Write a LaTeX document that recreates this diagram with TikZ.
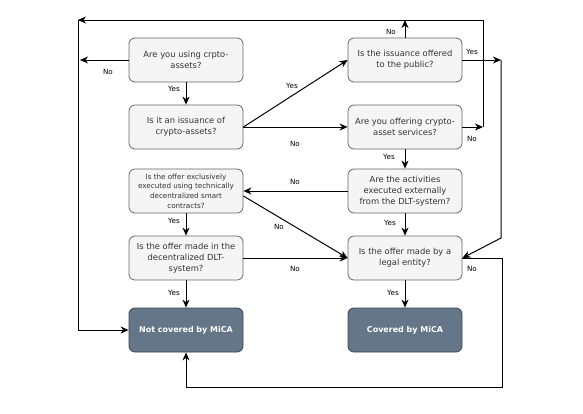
\documentclass[tikz,border=0pt]{standalone}
\usepackage{fontspec}
\setmainfont{DejaVu Sans}
\usetikzlibrary{arrows.meta}
\definecolor{boxfill}{HTML}{F5F5F5}
\definecolor{boxline}{HTML}{666666}
\definecolor{endfill}{HTML}{647687}
\definecolor{endline}{HTML}{314354}
\definecolor{boxtext}{HTML}{333333}
\begin{document}
\begin{tikzpicture}[x=1bp,y=-1bp,
	frage/.style={draw=boxline,fill=boxfill,rounded corners=6bp,minimum width=114bp,minimum height=44bp,align=center,text=boxtext,font=\fontsize{8.4}{10.8}\selectfont,inner sep=1bp,line width=0.8bp},
	ergebnis/.style={frage,draw=endline,fill=endfill,text=white,font=\fontsize{8}{10}\selectfont\bfseries},
	pfeil/.style={-{Stealth[length=8bp,width=7bp,inset=2.5bp]},line width=1bp},
	lbl/.style={font=\fontsize{7.2}{8}\selectfont,inner sep=0pt}]
				\useasboundingbox (0,0) rectangle (583,413);
				\node[frage] (using) at (186,60) {Are you using crpto-\\assets?};
				\node[frage] (issuance) at (186,127) {Is it an issuance of\\crypto-assets?};
				\node[frage] (public) at (405,60) {Is the issuance offered\\to the public?};
				\node[frage] (services) at (405,127) {Are you offering crypto-\\asset services?};
				\node[frage,font=\fontsize{7.2}{9.6}\selectfont] (smart) at (186,191) {Is the offer exclusively\\executed using technically\\decentralized smart\\contracts?};
				\node[frage] (dlt) at (186,258) {Is the offer made in the\\decentralized DLT-\\system?};
				\node[frage] (extern) at (405,191) {Are the activities\\executed externally\\from the DLT-system?};
				\node[frage] (legal) at (405,258) {Is the offer made by a\\legal entity?};
				\node[ergebnis] (notmica) at (186,330) {Not covered by MiCA};
				\node[ergebnis] (mica) at (405,330) {Covered by MiCA};
				\coordinate (usingNo) at (80,60);
				\coordinate (topL) at (78,20);
				\coordinate (topR) at (483,20);
				\coordinate (servNo) at (483,127);
				\coordinate (pubYes) at (501,60);
				\coordinate (knick) at (501,238);
				\coordinate (botR) at (502,387);
				\draw[pfeil] (using) -- (issuance);
				\draw[pfeil] (using.west) -- (usingNo);
				\draw[pfeil] (issuance.east) -- (public.west);
				\draw[pfeil] (issuance.east) -- (services.west);
				\draw[pfeil] (public.north) -- (public.north |- topL);
				\draw[pfeil] (public.east) -- (pubYes);
				\draw[pfeil] (pubYes) -- (knick) -- (legal.east);
				\draw[pfeil] (services.east) -- (servNo);
				\draw[pfeil] (servNo) -- (topR) -- (topL);
				\draw[pfeil] (topL) |- (notmica.west);
				\draw[pfeil] (services) -- (extern);
				\draw[pfeil] (extern.west) -- (smart.east);
				\draw[pfeil] ([yshift=-5bp]smart.east) -- (legal.west);
				\draw[pfeil] (smart) -- (dlt);
				\draw[pfeil] (dlt.east) -- (legal.west);
				\draw[pfeil] (dlt) -- (notmica);
				\draw[pfeil] (extern) -- (legal);
				\draw[pfeil] (legal) -- (mica);
				\draw[pfeil] (legal.east) -- (legal.east -| botR) -- (botR) -| (notmica.south);
				\node[lbl] (l1) at (108,72) {No};
				\node[lbl] (l2) at (174,89) {Yes};
				\node[lbl] (l3) at (292,86) {Yes};
				\node[lbl] (l4) at (295,144) {No};
				\node[lbl] (l5) at (391,32) {No};
				\node[lbl] (l6) at (472,52) {Yes};
				\node[lbl] (l7) at (472,139) {No};
				\node[lbl] (l8) at (389,157) {Yes};
				\node[lbl] (l9) at (295,182) {No};
				\node[lbl] (l10) at (279,227) {No};
				\node[lbl] (l11) at (174,221) {Yes};
				\node[lbl] (l12) at (295,269) {No};
				\node[lbl] (l13) at (390,223) {Yes};
				\node[lbl] (l14) at (472,269) {No};
				\node[lbl] (l15) at (174,293) {Yes};
				\node[lbl] (l16) at (393,293) {Yes};
				\end{tikzpicture}
\end{document}
